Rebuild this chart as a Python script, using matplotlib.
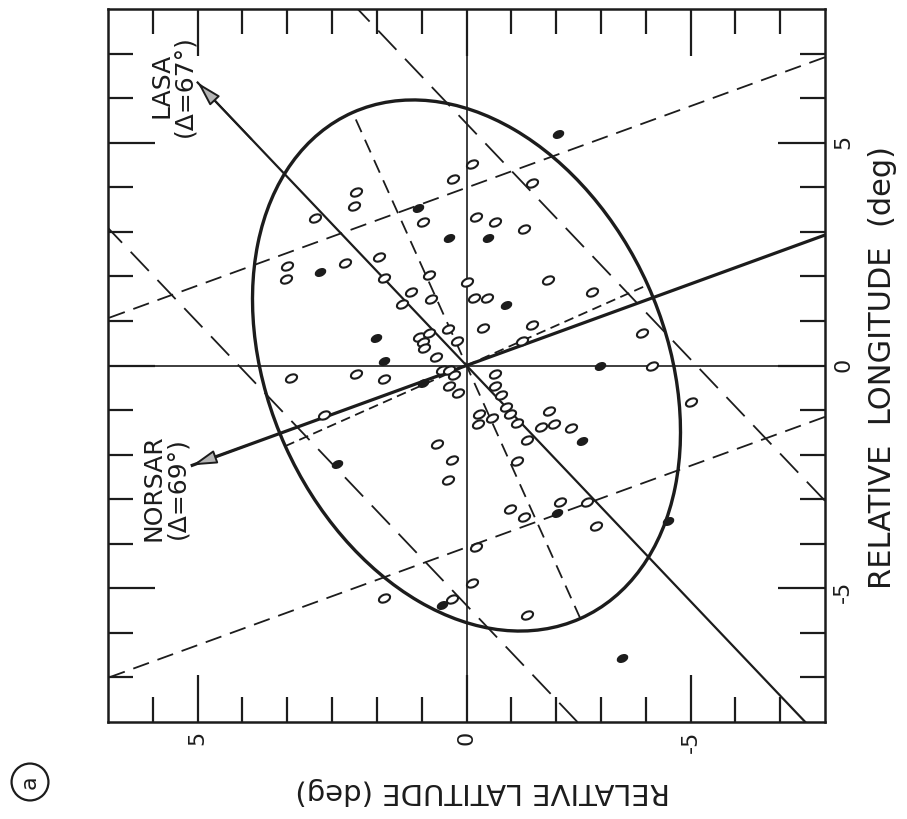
import numpy as np
import matplotlib
matplotlib.use("Agg")
import matplotlib.pyplot as plt
from matplotlib.patches import Ellipse
from matplotlib.markers import MarkerStyle
from matplotlib.transforms import Affine2D

plt.rcParams['font.family'] = ['DejaVu Sans']
plt.rcParams['lines.scale_dashes'] = False
ink = '#1c1c1c'

# epicentres relative to the reference event (deg); x = latitude, y = longitude
lat_open = [2.46, 2.50, 3.37, 0.96, 0.31, -0.13, -0.22, 1.96, 2.72, 4.00,
            4.02, 1.85, 0.83, 1.23, 0.80, 1.45, -0.02, -0.16, 0.42, -1.47,
            -0.63, -1.29, -1.81, -2.79, -0.45, -0.36, -1.47, 1.05, 0.98, 0.94,
            0.83, 0.22, 0.69, 3.91, 2.46, 1.83, 0.54, 0.38, 0.29, 0.40,
            0.18, 3.17, 0.65, 0.33, 0.42, -0.22, -3.91, -1.23, -4.15, -5.02,
            -0.63, -0.63, -0.78, -0.89, -0.96, -0.29, -0.58, -0.25, -1.12, -1.83,
            -1.67, -1.96, -2.34, -1.36, -1.12, -2.08, -2.70, -0.98, -1.29, -2.90,
            -1.36, 1.85, 0.33, -0.13]
lon_open = [3.90, 3.57, 3.30, 3.23, 4.19, 4.53, 3.34, 2.44, 2.29, 2.24,
            1.93, 1.97, 2.04, 1.66, 1.50, 1.37, 1.88, 1.52, 0.83, 4.10,
            3.21, 3.07, 1.91, 1.66, 1.52, 0.85, 0.90, 0.63, 0.52, 0.40,
            0.72, 0.56, 0.18, -0.29, -0.20, -0.31, -0.11, -0.11, -0.22, -0.47,
            -0.61, -1.10, -1.77, -2.13, -2.56, -4.08, 0.74, 0.56, 0.00, -0.81,
            -0.18, -0.45, -0.67, -0.94, -1.08, -1.08, -1.17, -1.32, -1.28, -1.03,
            -1.37, -1.32, -1.41, -1.68, -2.15, -3.07, -3.07, -3.23, -3.39, -3.61,
            -5.61, -5.22, -5.25, -4.89]
lat_filled = [1.09, 0.38, 3.28, -0.49, -2.05, -0.89, 2.01, 1.85, 0.98, 2.88,
              -2.97, -2.57, -2.01, -4.49, 0.54, -3.46]
lon_filled = [3.54, 2.87, 2.09, 2.85, 5.20, 1.35, 0.61, 0.11, -0.40, -2.20,
              0.00, -1.70, -3.32, -3.50, -5.38, -6.57]

# error ellipse: semi-axes (deg) and orientation (deg from latitude axis)
ell_a, ell_b, ell_angle = 6.22, 4.43, 65.9

# station azimuth lines, arrow tips (lat, lon)
lasa_tip = (6.00, 6.35)
norsar_tip = (6.12, -2.24)
# parallel dashed bands: longitude intercept at latitude 0
lasa_band = [5.43, -5.38]
norsar_band = [3.99, -4.08]

lat_ticks = [6, 0, -5]
lat_ticklabels = ['5', '0', '-5']
lon_ticks = [-5, 0, 5]
lon_ticklabels = ['-5', '0', '5']

fig = plt.figure(figsize=(9.07, 8.19), dpi=100)
ax = fig.add_axes([108/907, 97/819, 717/907, 713/819])
ax.set_xlim(8, -8)
ax.set_ylim(-8, 8)

ax.axhline(0, color=ink, lw=1.2)
ax.axvline(0, color=ink, lw=1.2)

ax.add_patch(Ellipse((0, 0), 2*ell_a, 2*ell_b, angle=ell_angle,
                     fill=False, ec=ink, lw=2.4))

# major and minor axes of the ellipse
th = np.radians(ell_angle)
ax.plot([-ell_a*np.cos(th), ell_a*np.cos(th)], [-ell_a*np.sin(th), ell_a*np.sin(th)],
        color=ink, lw=1.3, dashes=(10, 6))
ax.plot([ell_b*np.sin(th), -ell_b*np.sin(th)], [-ell_b*np.cos(th), ell_b*np.cos(th)],
        color=ink, lw=1.3, dashes=(7, 4))

lasa_slope = lasa_tip[1] / lasa_tip[0]
norsar_slope = norsar_tip[1] / norsar_tip[0]
for c in lasa_band:
    ax.axline((0, c), slope=lasa_slope, color=ink, lw=1.3, dashes=(19, 9))
for c in norsar_band:
    ax.axline((0, c), slope=norsar_slope, color=ink, lw=1.3, dashes=(12, 6.5))

ax.plot([lasa_tip[0], -10], [lasa_tip[1], -10*lasa_slope], color=ink, lw=1.6)
ax.plot([norsar_tip[0], -10], [norsar_tip[1], -10*norsar_slope], color=ink, lw=2.3)
for tip, lw in [(lasa_tip, 1.6), (norsar_tip, 2.3)]:
    ax.annotate('', xy=tip, xytext=(0.8*tip[0], 0.8*tip[1]),
                arrowprops=dict(arrowstyle='-|>,head_length=1.5,head_width=0.42',
                                fc='#b5b5b5', ec=ink, lw=1.4, shrinkA=0, shrinkB=0))

ax.text(6.56, 6.28, 'LASA\n(Δ=67°)', rotation=90, ha='center', va='center',
        fontsize=18, color=ink, linespacing=0.95)
ax.text(6.72, -2.74, 'NORSAR\n(Δ=69°)', rotation=90, ha='center', va='center',
        fontsize=18, color=ink, linespacing=0.95)

oval = MarkerStyle('o', transform=Affine2D().scale(1, 0.62).rotate_deg(25))
ax.plot(lat_open, lon_open, ls='none', marker=oval, ms=8.5, mfc='white',
        mec=ink, mew=1.5)
ax.plot(lat_filled, lon_filled, ls='none', marker=oval, ms=7.5, mfc=ink,
        mec=ink, mew=1.2)

ax.set_xticks(lat_ticks, lat_ticklabels)
ax.set_xticks([v for v in range(-7, 8) if v not in lat_ticks], minor=True)
ax.set_yticks(lon_ticks, lon_ticklabels)
ax.set_yticks([v for v in range(-7, 8) if v not in lon_ticks], minor=True)
ax.tick_params(which='both', direction='in', top=True, bottom=True, left=True,
               right=True, labelleft=False, labelright=True, colors=ink)
ax.tick_params(which='major', length=34, width=1.6, labelsize=16, pad=6)
ax.tick_params(which='minor', length=18, width=1.6)
for lab in ax.get_xticklabels() + ax.get_yticklabels():
    lab.set_rotation(90)
for s in ax.spines.values():
    s.set_linewidth(1.8)
    s.set_color(ink)

ax.set_xlabel('RELATIVE LATITUDE (deg)', rotation=180, fontsize=21, color=ink)
ax.xaxis.label.set_va('center')
ax.xaxis.set_label_coords(0.522, -0.097)
ax.yaxis.set_label_position('right')
ax.set_ylabel('RELATIVE  LONGITUDE  (deg)', rotation=90, fontsize=22, color=ink)
ax.yaxis.label.set_va('center')
ax.yaxis.set_label_coords(1.0795, 0.4965)

fig.text(30/907, 1 - 782/819, 'a', rotation=90, ha='center', va='center',
         fontsize=16, color=ink,
         bbox=dict(boxstyle='circle,pad=0.38', fc='none', ec=ink, lw=1.6))

fig.savefig('out.png', dpi=100, facecolor='white')
